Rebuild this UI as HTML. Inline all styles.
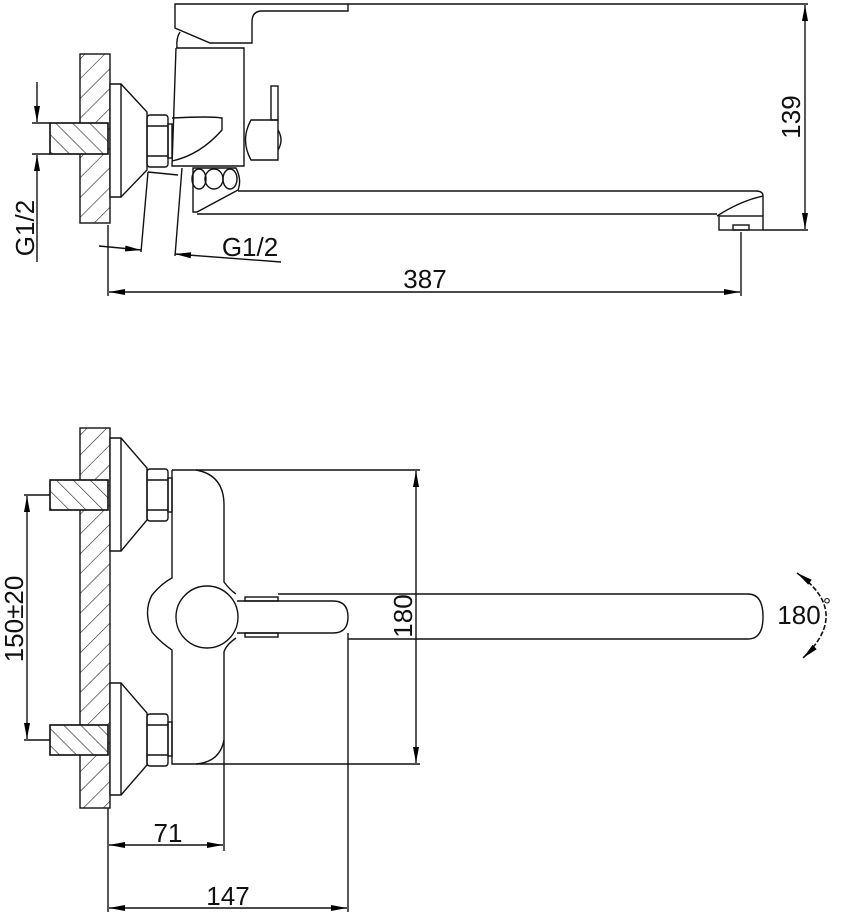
<!DOCTYPE html>
<html><head><meta charset="utf-8"><style>html,body{margin:0;padding:0;background:#fff}svg{display:block}</style></head>
<body>
<svg width="844" height="916" viewBox="0 0 844 916" xmlns="http://www.w3.org/2000/svg" font-family="Liberation Sans, sans-serif">
<defs>
<pattern id="h1" patternUnits="userSpaceOnUse" width="14" height="14" patternTransform="rotate(45)"><line x1="0" y1="0" x2="0" y2="14" stroke="#222" stroke-width="1.2"/></pattern>
<pattern id="h2" patternUnits="userSpaceOnUse" width="12" height="12" patternTransform="rotate(-45)"><line x1="0" y1="0" x2="0" y2="12" stroke="#222" stroke-width="1.2"/></pattern>
<marker id="a" markerWidth="16" markerHeight="8" refX="16" refY="4" orient="auto" markerUnits="userSpaceOnUse"><path d="M0,1 L16,4 L0,7 Z" fill="#000"/></marker>
<marker id="b" markerWidth="16" markerHeight="8" refX="0" refY="4" orient="auto" markerUnits="userSpaceOnUse"><path d="M16,1 L0,4 L16,7 Z" fill="#000"/></marker>
</defs>
<g fill="none" stroke="#111" stroke-width="1.4">
<rect x="80" y="54" width="30" height="169" fill="url(#h1)"/>
<rect x="50" y="123" width="58" height="31" fill="#fff"/>
<rect x="50" y="123" width="58" height="31" fill="url(#h2)"/>
<path d="M110,84 H121 L147,112 V170 L121,197 H110 Z" fill="#fff"/>
<line x1="121" y1="84" x2="121" y2="197"/>
<rect x="147" y="115" width="21" height="52" rx="3"/>
<line x1="147" y1="126" x2="168" y2="126"/><line x1="147" y1="156" x2="168" y2="156"/>
<rect x="168" y="124" width="4" height="34"/>
<path d="M175,28 V4 H348 V11 H262 Q252,11 252,22 V43 H210 Z"/>
<path d="M180,32 Q176,38 177,48"/>
<path d="M176,48 H244 V166 H172 L176,48"/>
<path d="M172,118 Q210,116 222,118 V130 Q200,155 172,161"/>
<rect x="271" y="86" width="7" height="34"/>
<path d="M251,120 H278 V160 H251 Q240,140 251,120 Z"/>
<path d="M278,130 Q284,140 278,150"/>
<ellipse cx="199" cy="179" rx="7" ry="10"/><ellipse cx="214" cy="179" rx="9" ry="10"/><ellipse cx="230" cy="179" rx="7" ry="10"/>
<path d="M193,168 H236 Q242,180 238,190 L197,212 H193 Z"/>
<path d="M238,191 H756 Q763,191 763,196 V216"/>
<path d="M197,214 H717"/>
<path d="M717,216 Q740,201 763,196"/>
<rect x="719" y="216" width="44" height="14"/>
<rect x="733" y="225" width="16" height="5"/>
<line x1="348" y1="4" x2="808" y2="4"/>
<line x1="763" y1="230" x2="808" y2="230"/>
<line x1="805" y1="5" x2="805" y2="229" marker-start="url(#b)" marker-end="url(#a)"/>
<line x1="108" y1="225" x2="108" y2="296"/>
<line x1="741" y1="232" x2="741" y2="296"/>
<line x1="109" y1="292" x2="740" y2="292" marker-start="url(#b)" marker-end="url(#a)"/>
<line x1="32" y1="123" x2="50" y2="123"/><line x1="32" y1="154" x2="50" y2="154"/>
<line x1="37" y1="82" x2="37" y2="122" marker-end="url(#a)"/>
<line x1="37" y1="262" x2="37" y2="155" marker-end="url(#a)"/>
<line x1="148" y1="172" x2="141" y2="252"/><line x1="182" y1="168" x2="175" y2="256"/>
<line x1="148" y1="172" x2="178" y2="175"/>
<line x1="99" y1="246" x2="141" y2="250" marker-end="url(#a)"/>
<line x1="281" y1="262" x2="175" y2="254" marker-end="url(#a)"/>
<rect x="80" y="428" width="30" height="380" fill="url(#h1)"/>
<rect x="50" y="480" width="58" height="30" fill="#fff"/><rect x="50" y="480" width="58" height="30" fill="url(#h2)"/>
<rect x="50" y="725" width="58" height="30" fill="#fff"/><rect x="50" y="725" width="58" height="30" fill="url(#h2)"/>
<path d="M110,438 H121 L147,468 V520 L121,551 H110 Z" fill="#fff"/><line x1="121" y1="438" x2="121" y2="551"/>
<path d="M110,683 H121 L147,713 V765 L121,795 H110 Z" fill="#fff"/><line x1="121" y1="683" x2="121" y2="795"/>
<rect x="147" y="469" width="21" height="52" rx="3"/><line x1="147" y1="480" x2="168" y2="480"/><line x1="147" y1="510" x2="168" y2="510"/>
<rect x="147" y="714" width="21" height="52" rx="3"/><line x1="147" y1="725" x2="168" y2="725"/><line x1="147" y1="755" x2="168" y2="755"/>
<rect x="168" y="478" width="4" height="34"/><rect x="168" y="722" width="4" height="34"/>
<path d="M172,470 H196 Q224,475 224,505 V582 Q230,590 236,594"/>
<path d="M236,638 Q226,645 224,652 V740 Q220,762 196,764 H172 V650 Q160,642 152,632 Q143,612 152,595 Q162,583 172,578 V470"/>
<circle cx="207" cy="617" r="31"/>
<path d="M237,601 H333 Q348,601 348,617 Q348,633 333,633 H237"/>
<rect x="245" y="597" width="33" height="4"/><rect x="245" y="633" width="33" height="4"/>
<path d="M278,594 H748 Q763,594 763,617 Q763,639 748,639 H348"/>
<line x1="196" y1="470" x2="420" y2="470"/><line x1="196" y1="764" x2="420" y2="764"/>
<line x1="416" y1="471" x2="416" y2="763" marker-start="url(#b)" marker-end="url(#a)"/>
<line x1="224" y1="740" x2="224" y2="851"/>
<line x1="348" y1="633" x2="348" y2="912"/>
<line x1="108" y1="808" x2="108" y2="912"/>
<line x1="109" y1="845" x2="223" y2="845" marker-start="url(#b)" marker-end="url(#a)"/>
<line x1="109" y1="908" x2="347" y2="908" marker-start="url(#b)" marker-end="url(#a)"/>
<line x1="24" y1="495" x2="50" y2="495"/><line x1="24" y1="740" x2="50" y2="740"/>
<line x1="27" y1="496" x2="27" y2="739" marker-start="url(#b)" marker-end="url(#a)"/>
<path d="M797,573 Q852,612 803,658" stroke-dasharray="5,2" stroke-width="1.6" marker-start="url(#b)" marker-end="url(#a)"/>
</g>
<g fill="#111" font-size="26">
<text x="793" y="117" transform="rotate(-90 793 117)" text-anchor="middle" dominant-baseline="middle">139</text>
<text x="425" y="288" text-anchor="middle">387</text>
<text x="27" y="228" transform="rotate(-90 27 228)" text-anchor="middle" dominant-baseline="middle">G1/2</text>
<text x="250" y="256" text-anchor="middle">G1/2</text>
<text x="405" y="616" transform="rotate(-90 405 616)" text-anchor="middle" dominant-baseline="middle">180</text>
<text x="16" y="619" transform="rotate(-90 16 619)" text-anchor="middle" dominant-baseline="middle">150±20</text>
<text x="799" y="624" text-anchor="middle">180</text>
<text x="823" y="612" font-size="20">°</text>
<text x="168" y="842" text-anchor="middle">71</text>
<text x="228" y="905" text-anchor="middle">147</text>
</g>
</svg>
</body></html>
